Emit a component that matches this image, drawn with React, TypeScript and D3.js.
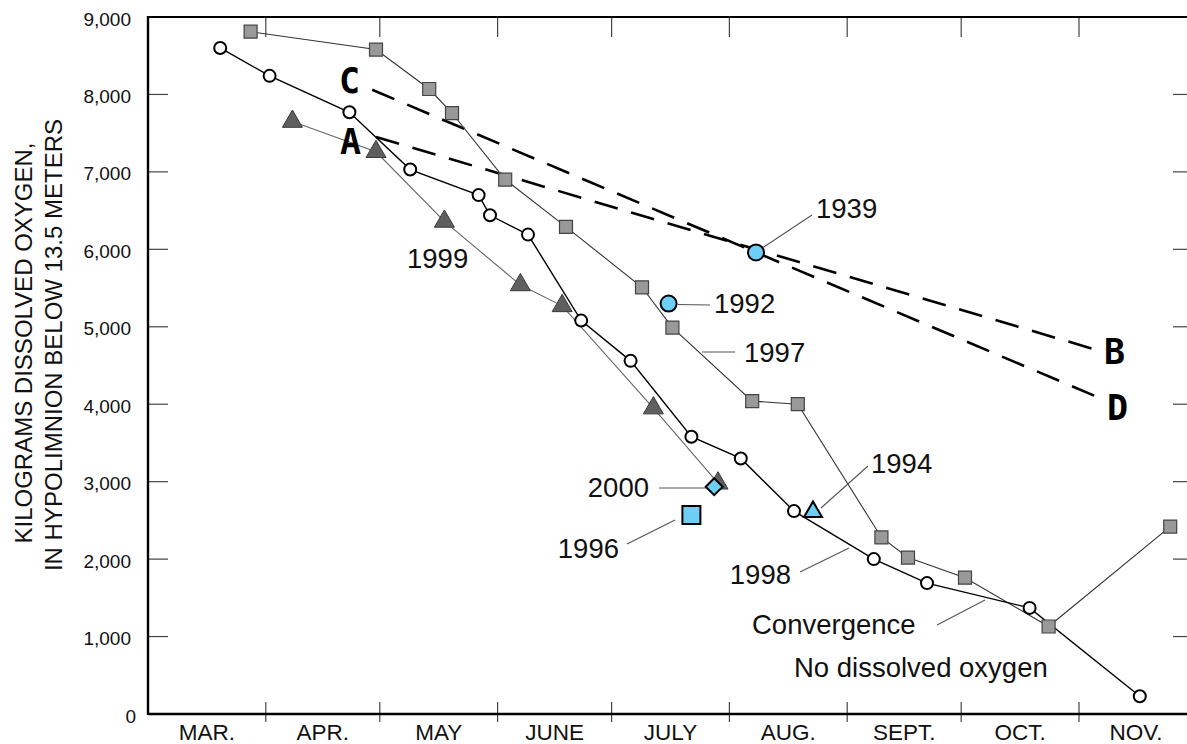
import React from "react";
import * as d3 from "d3";

// ---------- data ----------
const monthLabels = ["MAR.", "APR.", "MAY", "JUNE", "JULY", "AUG.", "SEPT.", "OCT.", "NOV."];
const yTickValues = [0, 1000, 2000, 3000, 4000, 5000, 6000, 7000, 8000, 9000];

const dates1998 = ["03-20", "04-02", "04-23", "05-09", "05-27", "05-30", "06-09", "06-23", "07-06", "07-22", "08-04", "08-18", "09-08", "09-22", "10-19", "11-17"];
const values1998 = [8600, 8240, 7770, 7030, 6700, 6440, 6190, 5080, 4560, 3580, 3300, 2620, 2000, 1690, 1370, 230];

const dates1997 = ["03-28", "04-30", "05-14", "05-20", "06-03", "06-19", "07-09", "07-17", "08-07", "08-19", "09-10", "09-17", "10-02", "10-24", "11-25"];
const values1997 = [8810, 8580, 8070, 7760, 6900, 6290, 5510, 4990, 4040, 4000, 2280, 2020, 1760, 1130, 2420];

const dates1999 = ["04-08", "04-30", "05-18", "06-07", "06-18", "07-12", "07-29"];
const values1999 = [7650, 7260, 6360, 5540, 5270, 3950, 2980];

// single-year observations
const singleYears = ["1939", "1992", "2000", "1996", "1994"];
const singleDates = ["08-08", "07-16", "07-28", "07-22", "08-23"];
const singleValues = [5960, 5300, 2935, 2570, 2610];
const singleShapes = ["circle", "circle", "diamond", "square", "triangle"];

// dashed trend lines A-B and C-D
const trendAB_dates = ["04-30", "11-05"];
const trendAB_values = [7450, 4710];
const trendCD_dates = ["04-29", "11-06"];
const trendCD_values = [8060, 4090];

// ---------- helpers ----------
const YEAR = 2001;
const parse = (md: string) => new Date(YEAR, +md.slice(0, 2) - 1, +md.slice(3, 5));

const W = 1187;
const H = 744;
const X0 = 148;
const X1 = 1193;
const Y0 = 714;
const Y1 = 17;

const x = d3.scaleTime().domain([new Date(YEAR, 2, 1), new Date(YEAR, 11, 1)]).range([X0, X1]);
const y = d3.scaleLinear().domain([0, 9000]).range([Y0, Y1]);

const BLUE = "#6dcff6";
const SANS = "'Liberation Sans', Arial, Helvetica, sans-serif";
const LETTER = "'DejaVu Sans Mono', monospace";

function pts(dates: string[], values: number[]): [number, number][] {
  return dates.map((d, i) => [x(parse(d)), y(values[i])]);
}

const line = d3.line<[number, number]>().x((d) => d[0]).y((d) => d[1]);

function Marker({ shape, cx, cy, fill, stroke, sw, size }: any) {
  if (shape === "circle") {
    return <circle cx={cx} cy={cy} r={size} fill={fill} stroke={stroke} strokeWidth={sw} />;
  }
  let sym: any = d3.symbolSquare;
  let area = size * size;
  if (shape === "triangle") {
    sym = d3.symbolTriangle;
    area = (Math.sqrt(3) / 4) * size * size;
  }
  const p = d3.symbol().type(sym).size(area)() as string;
  const rot = shape === "diamond" ? " rotate(45)" : "";
  return <path d={p} transform={`translate(${cx},${cy})${rot}`} fill={fill} stroke={stroke} strokeWidth={sw} />;
}

export default function App() {
  const months = d3.timeMonth.range(new Date(YEAR, 2, 1), new Date(YEAR, 11, 1));
  const boundaries = d3.timeMonth.range(new Date(YEAR, 3, 1), new Date(YEAR, 11, 1));

  const p1998 = pts(dates1998, values1998);
  const p1997 = pts(dates1997, values1997);
  const p1999 = pts(dates1999, values1999);
  const ab = pts(trendAB_dates, trendAB_values);
  const cd = pts(trendCD_dates, trendCD_values);
  const singles = pts(singleDates, singleValues);

  const labelStyle = { fontFamily: SANS, fontSize: 27.5, fill: "#111" } as any;
  const leader = { stroke: "#555", strokeWidth: 1.1, fill: "none" } as any;

  return (
    <svg width={W} height={H} style={{ position: "absolute", left: 0, top: 0, background: "#fff" }}>
      <rect x={0} y={0} width={W} height={H} fill="#fff" />

      {/* ticks */}
      {yTickValues.slice(1, -1).map((v) => (
        <g key={"yt" + v}>
          <line x1={X0} x2={X0 + 20} y1={y(v)} y2={y(v)} stroke="#444" strokeWidth={1.2} />
          <line x1={X1 - 20} x2={X1} y1={y(v)} y2={y(v)} stroke="#444" strokeWidth={1.2} />
        </g>
      ))}
      {boundaries.map((d, i) => (
        <g key={"xt" + i}>
          <line x1={x(d)} x2={x(d)} y1={Y1} y2={Y1 + 20} stroke="#444" strokeWidth={1.2} />
          <line x1={x(d)} x2={x(d)} y1={Y0 - 12} y2={Y0 + 8} stroke="#444" strokeWidth={1.2} />
        </g>
      ))}

      {/* y tick labels */}
      {yTickValues.map((v) => (
        <text key={"yl" + v} x={v === 0 ? 136 : 131} y={y(v) + 8.6} textAnchor="end" style={{ fontFamily: SANS, fontSize: 19, fill: "#111" }}>
          {d3.format(",")(v)}
        </text>
      ))}

      {/* month labels */}
      {months.map((m, i) => {
        const next = d3.timeMonth.offset(m, 1);
        const cx = (x(m) + x(next)) / 2;
        return (
          <text key={"ml" + i} x={cx} y={740} textAnchor="middle" style={{ fontFamily: SANS, fontSize: 22.5, fill: "#111" }}>
            {monthLabels[i]}
          </text>
        );
      })}

      {/* y axis title */}
      <g style={{ fontFamily: SANS, fontSize: 24, fill: "#111" }}>
        <text transform="translate(32,343) rotate(-90)" textAnchor="middle">KILOGRAMS DISSOLVED OXYGEN,</text>
        <text transform="translate(62,345) rotate(-90)" textAnchor="middle">IN HYPOLIMNION BELOW 13.5 METERS</text>
      </g>

      {/* trend lines */}
      <path d={line(ab) as string} fill="none" stroke="#000" strokeWidth={2.6} strokeDasharray="24 14" />
      <path d={line(cd) as string} fill="none" stroke="#000" strokeWidth={2.6} strokeDasharray="24 14" />

      {/* series lines */}
      <path d={line(p1999) as string} fill="none" stroke="#666" strokeWidth={1.1} />
      <path d={line(p1997) as string} fill="none" stroke="#333" strokeWidth={1.1} />
      <path d={line(p1998) as string} fill="none" stroke="#000" strokeWidth={1.4} />

      {/* leader lines */}
      <line x1={singles[0][0] + 7} y1={singles[0][1] - 5} x2={812} y2={215} {...leader} />
      <line x1={singles[1][0] + 9} y1={singles[1][1] + 1} x2={710} y2={305} {...leader} />
      <line x1={702} y1={352} x2={735} y2={352} {...leader} />
      <line x1={659} y1={488} x2={singles[2][0] - 8} y2={488} {...leader} />
      <line x1={627} y1={544} x2={675} y2={520} {...leader} />
      <line x1={821} y1={508} x2={868} y2={466} {...leader} />
      <line x1={800} y1={572} x2={849} y2={548} {...leader} />
      <line x1={937} y1={625} x2={985} y2={600} {...leader} />

      {/* markers */}
      {p1999.map((p, i) => (
        <Marker key={"m99" + i} shape="triangle" cx={p[0]} cy={p[1]} size={20} fill="#5f5f5f" stroke="#3a3a3a" sw={1} />
      ))}
      {p1997.map((p, i) => (
        <Marker key={"m97" + i} shape="square" cx={p[0]} cy={p[1]} size={13} fill="#999" stroke="#444" sw={1.2} />
      ))}
      {p1998.map((p, i) => (
        <Marker key={"m98" + i} shape="circle" cx={p[0]} cy={p[1]} size={6} fill="#fff" stroke="#000" sw={2} />
      ))}
      {singles.map((p, i) => {
        const s = singleShapes[i];
        const size = s === "circle" ? 8 : s === "square" ? 18 : s === "diamond" ? 12 : 18;
        return <Marker key={"ms" + i} shape={s} cx={p[0]} cy={p[1]} size={size} fill={BLUE} stroke="#000" sw={2} />;
      })}

      {/* frame */}
      <line x1={X0} x2={W + 10} y1={Y1} y2={Y1} stroke="#000" strokeWidth={2.2} />
      <line x1={X0} x2={W + 10} y1={Y0} y2={Y0} stroke="#000" strokeWidth={2.4} />
      <line x1={X0} x2={X0} y1={Y1 - 1} y2={Y0 + 1} stroke="#000" strokeWidth={2.4} />
      <line x1={X1} x2={X1} y1={Y1} y2={Y0} stroke="#000" strokeWidth={2.4} />

      {/* labels */}
      <text x={816} y={218} style={labelStyle}>{singleYears[0]}</text>
      <text x={714} y={313} style={labelStyle}>{singleYears[1]}</text>
      <text x={744} y={362} style={labelStyle}>1997</text>
      <text x={407} y={268} style={labelStyle}>1999</text>
      <text x={649} y={497} textAnchor="end" style={labelStyle}>{singleYears[2]}</text>
      <text x={619} y={558} textAnchor="end" style={labelStyle}>{singleYears[3]}</text>
      <text x={871} y={473} style={labelStyle}>{singleYears[4]}</text>
      <text x={791} y={584} textAnchor="end" style={labelStyle}>1998</text>
      <text x={752} y={634} style={labelStyle}>Convergence</text>
      <text x={794} y={677} style={labelStyle}>No dissolved oxygen</text>

      {/* trend line letters */}
      <g style={{ fontFamily: LETTER, fontWeight: "bold", fontSize: 35, fill: "#000" }}>
        <text x={339} y={93}>C</text>
        <text x={340} y={154}>A</text>
        <text x={1104} y={364}>B</text>
        <text x={1107} y={420}>D</text>
      </g>
    </svg>
  );
}
